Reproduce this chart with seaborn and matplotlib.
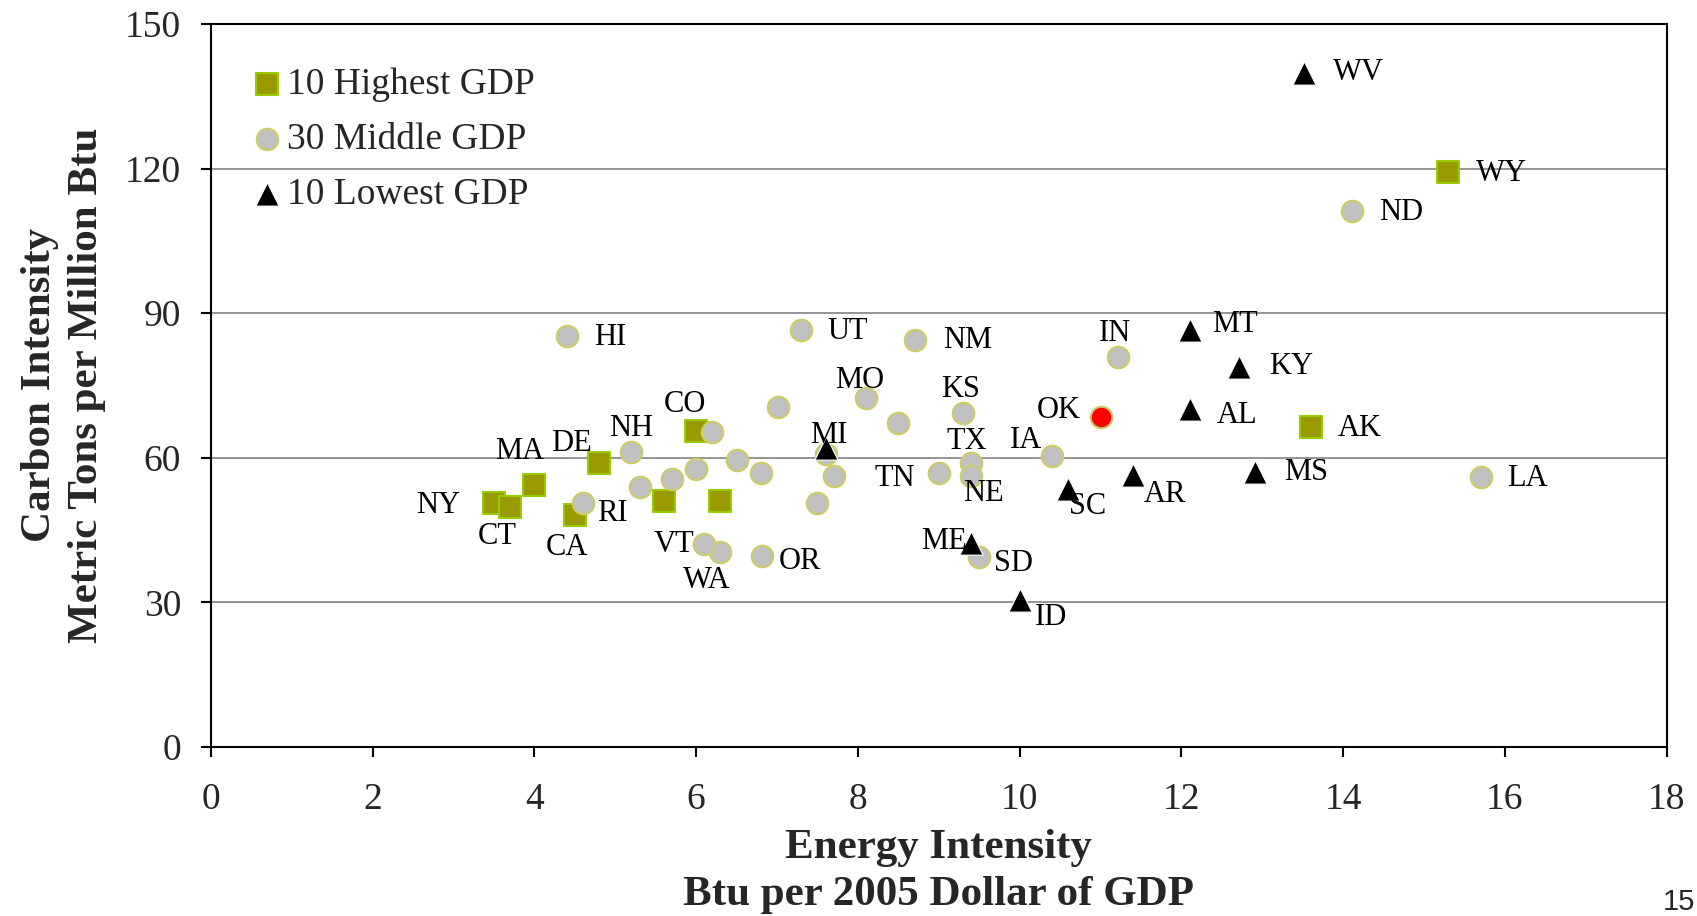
import pandas as pd
import matplotlib
matplotlib.use("Agg")
import matplotlib.pyplot as plt
import seaborn as sns

# 10 highest GDP states (squares)
high_names = ["NY", "CT", "MA", "CA", "DE", "", "CO", "", "WY", "AK"]
high_x = [3.5, 3.7, 4.0, 4.5, 4.8, 5.6, 6.0, 6.3, 15.3, 13.6]
high_y = [50.5, 49.7, 54.3, 48.1, 58.8, 51.0, 65.5, 51.0, 119.2, 66.3]

# 30 middle GDP states (circles)
mid_names = ["HI", "UT", "NM", "IN", "ND", "LA", "OK", "KS", "MO", "",
             "", "TX", "NE", "TN", "IA", "SD", "OR", "WA", "VT", "RI",
             "NH", "", "", "", "", "", "", "", "", ""]
mid_x = [4.4, 7.3, 8.71, 11.21, 14.11, 15.7, 11.0, 9.3, 8.1, 8.5,
         7.01, 9.4, 9.4, 9.0, 10.4, 9.5, 6.81, 6.3, 6.1, 4.6,
         5.2, 5.3, 5.7, 6.0, 6.2, 6.51, 6.8, 7.5, 7.6, 7.7]
mid_y = [85.3, 86.6, 84.5, 80.8, 111.1, 55.9, 68.4, 69.2, 72.3, 67.1,
         70.6, 58.8, 56.2, 56.9, 60.3, 39.4, 39.6, 40.4, 42.1, 50.5,
         61.1, 54.0, 55.6, 57.6, 65.4, 59.5, 56.9, 50.5, 60.8, 56.2]
highlight = "OK"

# 10 lowest GDP states (triangles)
low_names = ["WV", "MT", "KY", "AL", "AR", "MS", "SC", "ME", "ID", "MI"]
low_x = [13.51, 12.11, 12.71, 12.11, 11.4, 12.91, 10.6, 9.4, 10.0, 7.6]
low_y = [139.9, 86.6, 78.9, 70.1, 56.4, 57.1, 53.6, 42.2, 30.5, 62.1]

# label offsets from the marker, in pixels (right, down)
label_offsets = {
    "HI": (43, 2), "UT": (46, 2), "NM": (52, 1), "IN": (-3, -24),
    "MT": (45, -5), "KY": (52, 0), "AL": (47, 6), "AK": (49, 1),
    "MS": (51, 1), "LA": (47, 1), "WV": (55, 0), "WY": (53, 1),
    "ND": (49, 1), "OK": (-42, -7), "KS": (-2, -24), "MO": (-6, -18),
    "TX": (-4, -22), "IA": (-26, -16), "TN": (-44, 6), "NE": (12, 18),
    "SC": (19, 18), "AR": (32, 19), "ME": (-27, -2), "SD": (34, 7),
    "ID": (31, 18), "MI": (3, -12), "OR": (38, 6), "WA": (-14, 28),
    "VT": (-30, 1), "CA": (-8, 32), "RI": (29, 10), "CT": (-13, 29),
    "NY": (-56, 2), "MA": (-15, -34), "DE": (-28, -20), "NH": (0, -24),
    "CO": (-11, -27),
}

high = pd.DataFrame({"state": high_names, "x": high_x, "y": high_y})
mid = pd.DataFrame({"state": mid_names, "x": mid_x, "y": mid_y})
low = pd.DataFrame({"state": low_names, "x": low_x, "y": low_y})

sns.set_theme(style="white")
plt.rcParams["font.family"] = ["Liberation Serif", "DejaVu Serif"]

fig = plt.figure(figsize=(16.97, 9.16), dpi=100)
ax = fig.add_axes([0.1243, 0.1847, 0.8578, 0.7891])

ax.set_xlim(0, 18)
ax.set_ylim(0, 150)
ax.set_xticks(range(0, 19, 2))
ax.set_yticks(range(0, 151, 30))
for yv in range(30, 150, 30):
    ax.axhline(yv, color="#8c8c8c", lw=1.3, zorder=0)

sns.scatterplot(data=high, x="x", y="y", marker="s", s=240, color="#999900",
                edgecolor="#99cc00", linewidth=1.5, label="10 Highest GDP",
                ax=ax, zorder=3)
mid_main = mid[mid["state"] != highlight]
mid_hl = mid[mid["state"] == highlight]
sns.scatterplot(data=mid_main, x="x", y="y", marker="o", s=240, color="#c0c0c0",
                edgecolor="#cccc66", linewidth=1.5, label="30 Middle GDP",
                ax=ax, zorder=4)
sns.scatterplot(data=mid_hl, x="x", y="y", marker="o", s=240, color="#ff0000",
                edgecolor="#cccc66", linewidth=1.5, legend=False,
                ax=ax, zorder=4)
sns.scatterplot(data=low, x="x", y="y", marker="^", s=280, color="black",
                edgecolor="white", linewidth=0.8, label="10 Lowest GDP",
                ax=ax, zorder=5)

# state labels
for df in (high, mid, low):
    for _, r in df.iterrows():
        if r["state"] == "":
            continue
        dx, dy = label_offsets[r["state"]]
        ax.annotate(r["state"], (r["x"], r["y"]), xytext=(dx, -dy),
                    textcoords="offset pixels", ha="center", va="center",
                    fontsize=22, color="black", zorder=6)

for sp in ax.spines.values():
    sp.set_visible(True)
    sp.set_color("black")
    sp.set_linewidth(1.5)

ax.tick_params(axis="both", direction="out", length=7.5, width=1.5,
               color="black", labelsize=27, bottom=True, left=True)
ax.tick_params(axis="x", pad=18)
ax.tick_params(axis="y", pad=14)

ax.set_xlabel("Energy Intensity\nBtu per 2005 Dollar of GDP",
              fontsize=31, fontweight="bold", labelpad=9, linespacing=1.3)
ax.set_ylabel("Carbon Intensity\nMetric Tons per Million Btu",
              fontsize=31, fontweight="bold", labelpad=14, linespacing=1.3)

ax.legend(loc="upper left", bbox_to_anchor=(0.0287, 0.94), frameon=False,
          fontsize=27, handlelength=0.75, handletextpad=0.17,
          labelspacing=0.55, borderpad=0, borderaxespad=0, scatterpoints=1)

fig.text(0.999, 0.0, "15", ha="right", va="bottom", fontsize=21,
         family="Liberation Sans")

fig.savefig("out.png", dpi=100)
